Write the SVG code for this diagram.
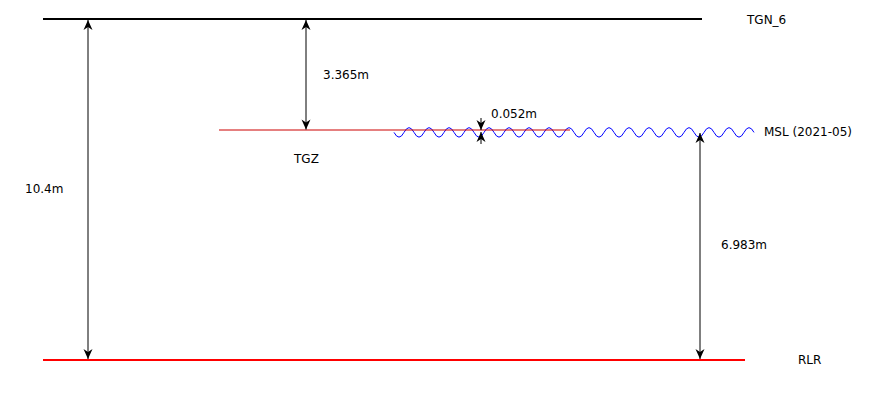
<svg xmlns="http://www.w3.org/2000/svg" width="875" height="400" viewBox="0 0 875 400">
<style>
text{font-family:"DejaVu Sans",sans-serif;font-size:12px;fill:#000}
.dim{stroke:#000;stroke-width:1;fill:none}
</style>
<defs>
<marker id="ah" viewBox="-11 -5 12 10" markerWidth="12" markerHeight="10" refX="0" refY="0" orient="auto-start-reverse" markerUnits="userSpaceOnUse">
<path d="M0,0 L-10,-4.5 L-7,0 L-10,4.5 Z" fill="#000"/>
</marker>
</defs>
<rect width="875" height="400" fill="#fff"/>
<g id="TGN_6">
<line x1="43" y1="19" x2="702" y2="19" stroke="#000" stroke-width="2"/>
<text x="747" y="24">TGN_6</text>
</g>
<g id="MSL">
<path d="M394,132.4 q5,9.5 10,0 t10,0 t10,0 t10,0 t10,0 t10,0 t10,0 t10,0 t10,0 t10,0 t10,0 t10,0 t10,0 t10,0 t10,0 t10,0 t10,0 t10,0 t10,0 t10,0 t10,0 t10,0 t10,0 t10,0 t10,0 t10,0 t10,0 t10,0 t10,0 t10,0 t10,0 t10,0 t10,0 t10,0 t10,0 t10,0" fill="none" stroke="#0000ff" stroke-width="1"/>
<text x="764" y="136">MSL (2021-05)</text>
</g>
<g id="TGZ">
<line x1="219" y1="130" x2="570" y2="130" stroke="#cc0000" stroke-width="1"/>
<text x="294" y="163">TGZ</text>
</g>
<g id="RLR">
<line x1="43" y1="360" x2="745" y2="360" stroke="#ff0000" stroke-width="2"/>
<text x="798" y="364">RLR</text>
</g>
<g id="connectors">
<line class="dim" x1="88" y1="20" x2="88" y2="359" marker-start="url(#ah)" marker-end="url(#ah)"/>
<line class="dim" x1="306" y1="20" x2="306" y2="129.5" marker-start="url(#ah)" marker-end="url(#ah)"/>
<line class="dim" x1="481" y1="118" x2="481" y2="130" marker-end="url(#ah)"/>
<line class="dim" x1="481" y1="144" x2="481" y2="132" marker-end="url(#ah)"/>
<line class="dim" x1="700" y1="133" x2="700" y2="359" marker-start="url(#ah)" marker-end="url(#ah)"/>
</g>
<g id="labels">
<text x="323" y="79">3.365m</text>
<text x="491" y="118">0.052m</text>
<text x="25" y="193">10.4m</text>
<text x="721" y="249">6.983m</text>
</g>
</svg>
